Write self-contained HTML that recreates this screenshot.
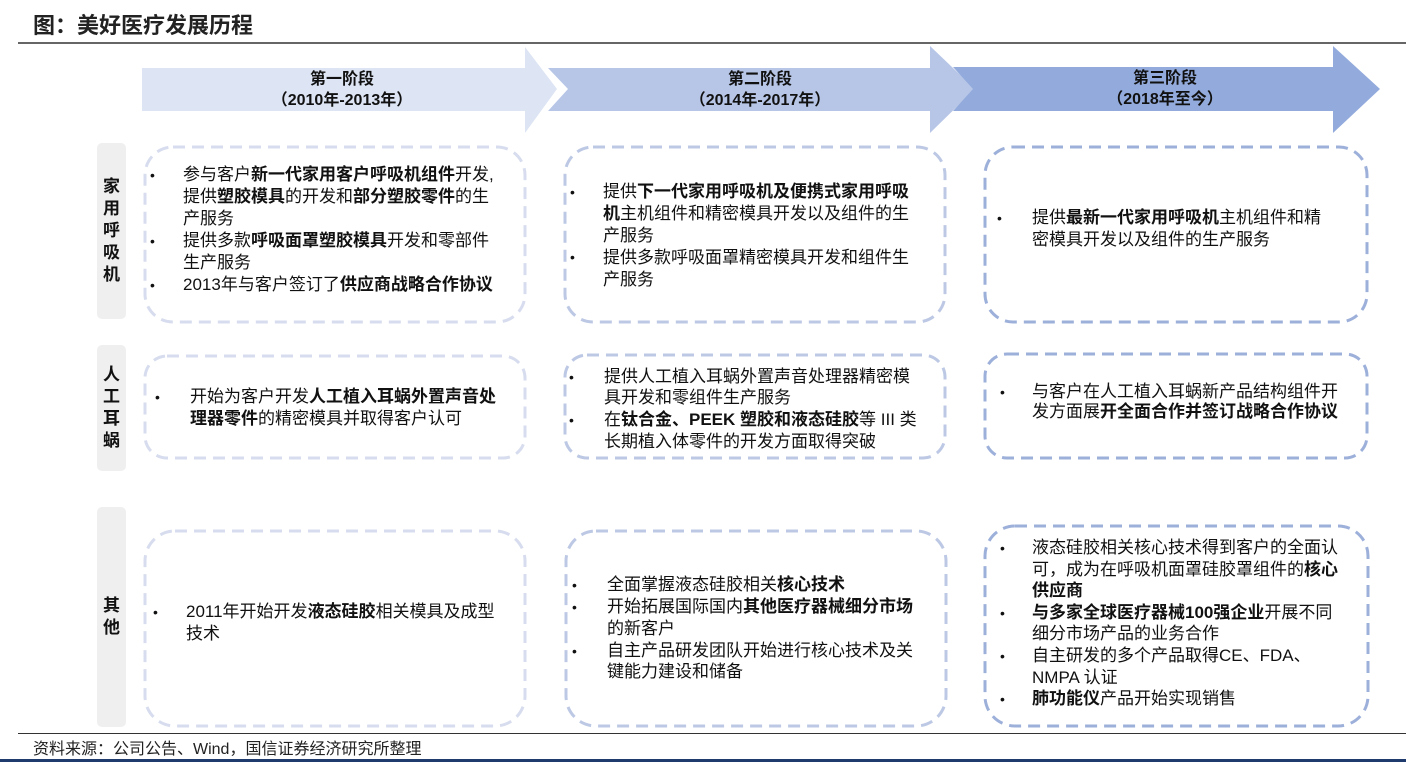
<!DOCTYPE html>
<html><head><meta charset="utf-8"><style>
body{margin:0;width:1406px;height:762px;position:relative;background:#fff;overflow:hidden;font-family:"Liberation Sans","Noto Sans CJK SC",sans-serif;color:#111}
.a{position:absolute;white-space:nowrap;font-size:17px;line-height:22px}
.b{position:absolute;font-size:14px;line-height:22px}
b{font-weight:bold}
.lab{position:absolute;background:#efefef;border-radius:5px;width:29px;left:97px;text-align:center;font-weight:bold;font-size:17px;display:flex;flex-direction:column;justify-content:center;line-height:22px}
.hd{position:absolute;text-align:center;font-weight:bold;font-size:16px;line-height:21px}
</style></head><body>
<div style="position:absolute;left:33px;top:8px;font-size:22px;font-weight:bold;color:#222">图：美好医疗发展历程</div>
<div style="position:absolute;left:18px;top:42px;width:1388px;height:2px;background:#666"></div>
<svg style="position:absolute;left:0;top:0" width="1406" height="762">
<polygon points="142,68 525,68 525,47 557,89 525,133 525,111 142,111" fill="#dde4f3"/>
<polygon points="548,68 930,68 930,46 975,89 930,133 930,111 548,111 568,89" fill="#b7c6e7"/>
<polygon points="953,67 1333,67 1333,46 1380,89 1333,133 1333,111 953,111 973,89" fill="#93abdc"/>
<g fill="none" stroke-width="3" stroke-dasharray="12,7">
<rect x="145" y="147" width="380" height="175" rx="28" stroke="#d7ddee"/>
<rect x="565" y="147" width="380" height="175" rx="28" stroke="#bcc8e4"/>
<rect x="985" y="147" width="382" height="175" rx="28" stroke="#9db0da"/>
<rect x="145" y="356" width="380" height="102" rx="22" stroke="#d7ddee"/>
<rect x="565" y="355" width="380" height="103" rx="22" stroke="#bcc8e4"/>
<rect x="985" y="354" width="382" height="104" rx="22" stroke="#9db0da"/>
<rect x="145" y="531" width="380" height="195" rx="30" stroke="#d7ddee"/>
<rect x="566" y="531" width="380" height="195" rx="30" stroke="#bcc8e4"/>
<rect x="985" y="526" width="383" height="200" rx="30" stroke="#9db0da"/>
</g></svg>
<div class="hd" style="left:142px;width:400px;top:69px">第一阶段<br>（2010年-2013年）</div>
<div class="hd" style="left:560px;width:400px;top:69px">第二阶段<br>（2014年-2017年）</div>
<div class="hd" style="left:965px;width:400px;top:68px">第三阶段<br>（2018年至今）</div>
<div class="lab" style="top:143px;height:176px">家<br>用<br>呼<br>吸<br>机</div>
<div class="lab" style="top:345px;height:126px">人<br>工<br>耳<br>蜗</div>
<div class="lab" style="top:507px;height:220px">其<br>他</div>

<div class="b" style="left:150px;top:164px">•</div><div class="b" style="left:150px;top:230px">•</div><div class="b" style="left:150px;top:274px">•</div>
<div class="a" style="left:183px;top:164px">参与客户<b>新一代家用客户呼吸机组件</b>开发,</div>
<div class="a" style="left:183px;top:186px">提供<b>塑胶模具</b>的开发和<b>部分塑胶零件</b>的生</div>
<div class="a" style="left:183px;top:208px">产服务</div>
<div class="a" style="left:183px;top:230px">提供多款<b>呼吸面罩塑胶模具</b>开发和零部件</div>
<div class="a" style="left:183px;top:252px">生产服务</div>
<div class="a" style="left:183px;top:274px">2013年与客户签订了<b>供应商战略合作协议</b></div>

<div class="b" style="left:570px;top:181px">•</div><div class="b" style="left:570px;top:246px">•</div>
<div class="a" style="left:603px;top:181px">提供<b>下一代家用呼吸机及便携式家用呼吸</b></div>
<div class="a" style="left:603px;top:203px"><b>机</b>主机组件和精密模具开发以及组件的生</div>
<div class="a" style="left:603px;top:225px">产服务</div>
<div class="a" style="left:603px;top:247px">提供多款呼吸面罩精密模具开发和组件生</div>
<div class="a" style="left:603px;top:269px">产服务</div>

<div class="b" style="left:997px;top:207px">•</div>
<div class="a" style="left:1032px;top:207px">提供<b>最新一代家用呼吸机</b>主机组件和精</div>
<div class="a" style="left:1032px;top:229px">密模具开发以及组件的生产服务</div>

<div class="b" style="left:155px;top:386px">•</div>
<div class="a" style="left:190px;top:386px">开始为客户开发<b>人工植入耳蜗外置声音处</b></div>
<div class="a" style="left:190px;top:408px"><b>理器零件</b>的精密模具并取得客户认可</div>

<div class="b" style="left:569px;top:366px">•</div><div class="b" style="left:569px;top:409px">•</div>
<div class="a" style="left:604px;top:366px">提供人工植入耳蜗外置声音处理器精密模</div>
<div class="a" style="left:604px;top:387px">具开发和零组件生产服务</div>
<div class="a" style="left:604px;top:409px">在<b>钛合金、PEEK 塑胶和液态硅胶</b>等 III 类</div>
<div class="a" style="left:604px;top:431px">长期植入体零件的开发方面取得突破</div>

<div class="b" style="left:1000px;top:381px">•</div>
<div class="a" style="left:1032px;top:381px">与客户在人工植入耳蜗新产品结构组件开</div>
<div class="a" style="left:1032px;top:401px">发方面展<b>开全面合作并签订战略合作协议</b></div>

<div class="b" style="left:153px;top:601px">•</div>
<div class="a" style="left:186px;top:601px">2011年开始开发<b>液态硅胶</b>相关模具及成型</div>
<div class="a" style="left:186px;top:623px">技术</div>

<div class="b" style="left:572px;top:574px">•</div><div class="b" style="left:572px;top:596px">•</div><div class="b" style="left:572px;top:640px">•</div>
<div class="a" style="left:607px;top:574px">全面掌握液态硅胶相关<b>核心技术</b></div>
<div class="a" style="left:607px;top:596px">开始拓展国际国内<b>其他医疗器械细分市场</b></div>
<div class="a" style="left:607px;top:618px">的新客户</div>
<div class="a" style="left:607px;top:640px">自主产品研发团队开始进行核心技术及关</div>
<div class="a" style="left:607px;top:661px">键能力建设和储备</div>

<div class="b" style="left:1000px;top:537px">•</div><div class="b" style="left:1000px;top:602px">•</div><div class="b" style="left:1000px;top:645px">•</div><div class="b" style="left:1000px;top:688px">•</div>
<div class="a" style="left:1032px;top:537px">液态硅胶相关核心技术得到客户的全面认</div>
<div class="a" style="left:1032px;top:559px">可，成为在呼吸机面罩硅胶罩组件的<b>核心</b></div>
<div class="a" style="left:1032px;top:580px"><b>供应商</b></div>
<div class="a" style="left:1032px;top:602px"><b>与多家全球医疗器械100强企业</b>开展不同</div>
<div class="a" style="left:1032px;top:623px">细分市场产品的业务合作</div>
<div class="a" style="left:1032px;top:645px">自主研发的多个产品取得CE、FDA、</div>
<div class="a" style="left:1032px;top:667px">NMPA 认证</div>
<div class="a" style="left:1032px;top:688px"><b>肺功能仪</b>产品开始实现销售</div>

<div style="position:absolute;left:18px;top:733px;width:1388px;height:1px;background:#333"></div>
<div style="position:absolute;left:33px;top:740px;font-size:16px;line-height:20px;color:#222">资料来源：公司公告、Wind，国信证券经济研究所整理</div>
<div style="position:absolute;left:0;top:759px;width:1406px;height:3px;background:#1f3b6e"></div>
</body></html>
